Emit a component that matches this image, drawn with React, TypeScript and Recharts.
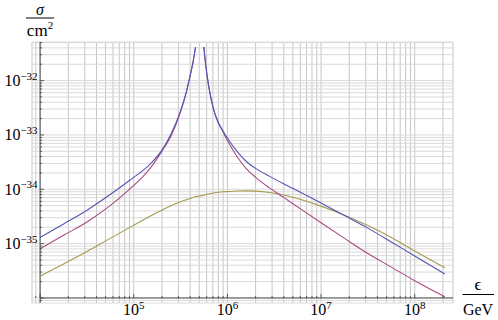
import React from 'react';
import { LineChart, Line, XAxis, YAxis, CartesianGrid, ReferenceLine } from 'recharts';

// energies in GeV
const energies = [
  1e4, 1.8e4, 3.2e4, 5.6e4, 1e5, 1.26e5, 1.58e5, 2e5, 2.5e5, 3.16e5, 3.63e5, 3.98e5, 4.27e5, 4.57e5,
  5.05e5,
  5.6e5, 5.89e5, 6.31e5, 7.08e5, 7.94e5, 8.91e5, 1e6, 1.26e6, 1.58e6, 2e6, 2.82e6, 3.98e6, 6.31e6,
  1e7, 1.78e7, 3.16e7, 5.62e7, 1e8, 2.1e8,
];

// cross sections in cm^2
const sigmaBlue = [
  1.3e-35, 2.32e-35, 4.17e-35, 8.0e-35, 1.66e-34, 2.23e-34, 3.21e-34, 5.25e-34, 1.04e-33, 2.78e-33, 5.99e-33, 1.19e-32, 2.07e-32, 4.15e-32,
  null,
  4.15e-32, 1.82e-32, 7.91e-33, 3.06e-33, 1.73e-33, 1.21e-33, 8.76e-34, 5.03e-34, 3.28e-34, 2.43e-34, 1.73e-34, 1.26e-34, 8.43e-35,
  5.57e-35, 3.28e-35, 1.93e-35, 1.075e-35, 5.92e-36, 2.77e-36,
];
const sigmaMagenta = [
  8.07e-36, 1.44e-35, 2.53e-35, 5.0e-35, 1.18e-34, 1.73e-34, 2.76e-34, 5.03e-34, 9.54e-34, 2.66e-33, 5.99e-33, 1.19e-32, 2.07e-32, 4.15e-32,
  null,
  4.15e-32, 1.82e-32, 7.91e-33, 3.06e-33, 1.73e-33, 1.16e-33, 7.87e-34, 4.06e-34, 2.43e-34, 1.66e-34, 1.06e-34, 7.11e-35, 4.13e-35,
  2.42e-35, 1.25e-35, 6.58e-36, 3.7e-36, 2.08e-36, 1.05e-36,
];
const sigmaYellow = [
  2.52e-36, 4.28e-36, 7.26e-36, 1.25e-35, 2.18e-35, 2.72e-35, 3.36e-35, 4.13e-35, 5.0e-35, 5.89e-35, 6.41e-35, 6.75e-35, 7.05e-35, 7.29e-35,
  7.51e-35,
  7.84e-35, 8.01e-35, 8.22e-35, 8.54e-35, 8.8e-35, 8.99e-35, 9.1e-35, 9.29e-35, 9.37e-35, 9.26e-35, 8.72e-35, 7.84e-35, 6.33e-35,
  4.9e-35, 3.34e-35, 2.15e-35, 1.3e-35, 7.32e-36, 3.59e-36,
];

const xRange = [1e4, 2.1e8];
const yRange = [1e-36, 4.15e-32];

const COLORS = { blue: '#5555b4', magenta: '#a84a82', yellow: '#a69a4e' };

const W = 498;
const H = 320;
const M = { top: 42, right: 45, bottom: 0, left: 0 };
const Y_AXIS_W = 32;
const X_AXIS_H = 17;
const PAD = 0.02;
const PLOT_W = W - M.left - M.right - Y_AXIS_W;
const PLOT_H = H - M.top - M.bottom - X_AXIS_H;
const X_PAD_PX = (PLOT_W * PAD) / (1 + 2 * PAD);
const Y_PAD_PX = (PLOT_H * PAD) / (1 + 2 * PAD);
const FONT = "'Liberation Serif', 'Times New Roman', Times, serif";

const data = energies.map((e, i) => ({
  e,
  blue: sigmaBlue[i],
  magenta: sigmaMagenta[i],
  yellow: sigmaYellow[i],
}));

function padLog([a, b]: number[]) {
  const la = Math.log10(a);
  const lb = Math.log10(b);
  const p = (lb - la) * PAD;
  return [Math.pow(10, la - p), Math.pow(10, lb + p)];
}
const xDomain = padLog(xRange);
const yDomain = padLog(yRange);

function logTicks([lo, hi]: number[]) {
  const out: number[] = [];
  for (let n = Math.floor(Math.log10(lo)); n <= Math.ceil(Math.log10(hi)); n++) {
    for (let k = 1; k <= 9; k++) {
      const v = k * Math.pow(10, n);
      if (v >= lo && v <= hi) out.push(v);
    }
  }
  return out;
}
const xTicks = logTicks(xDomain);
const yTicks = logTicks(yDomain);

function decade(v: number) {
  const l = Math.log10(v);
  const r = Math.round(l);
  return Math.abs(l - r) < 1e-6 ? r : null;
}
function same(a: number, b: number) {
  return Math.abs(Math.log10(a) - Math.log10(b)) < 1e-6;
}

const AXIS = '#3a3a3a';

const XTick = (props: any) => {
  const { x, y, payload } = props;
  const d = decade(payload.value);
  const ay = y - Y_PAD_PX;
  const atOrigin = same(payload.value, xRange[0]);
  return (
    <g>
      <line x1={x} x2={x} y1={ay} y2={ay - (d !== null ? 4 : 2)} stroke={AXIS} strokeWidth={0.8} />
      {d !== null && !atOrigin && (
        <text x={x} y={ay + 17.5} textAnchor="middle" fontFamily={FONT} fontSize={16} fill="#000">
          10<tspan dy={-6} fontSize={11}>{String(d)}</tspan>
        </text>
      )}
    </g>
  );
};

const YTick = (props: any) => {
  const { x, y, payload } = props;
  const d = decade(payload.value);
  const ax = x + X_PAD_PX;
  const atOrigin = same(payload.value, yRange[0]);
  return (
    <g>
      <line x1={ax} x2={ax + (d !== null ? 4 : 2)} y1={y} y2={y} stroke={AXIS} strokeWidth={0.8} />
      {d !== null && !atOrigin && (
        <text x={ax - 2.5} y={y + 5.5} textAnchor="end" fontFamily={FONT} fontSize={16} fill="#000">
          10<tspan dy={-6.5} fontSize={11}>{'\u2212' + String(-d)}</tspan>
        </text>
      )}
    </g>
  );
};

export default function App() {
  return (
    <div style={{ position: 'absolute', left: 0, top: 0, width: W, height: H, background: '#fff', fontFamily: FONT }}>
      <LineChart width={W} height={H} data={data} margin={M}>
        <CartesianGrid horizontal={false} vertical={true} stroke="#c6c6c6" strokeWidth={1} />
        <CartesianGrid horizontal={true} vertical={false} stroke="#dadada" strokeWidth={1} />
        <XAxis
          dataKey="e"
          type="number"
          scale="log"
          domain={xDomain}
          allowDataOverflow
          ticks={xTicks}
          interval={0}
          tickSize={0}
          tickMargin={0}
          axisLine={false}
          tickLine={false}
          height={X_AXIS_H}
          tick={<XTick />}
        />
        <YAxis
          type="number"
          scale="log"
          domain={yDomain}
          allowDataOverflow
          ticks={yTicks}
          interval={0}
          tickSize={0}
          tickMargin={0}
          axisLine={false}
          tickLine={false}
          width={Y_AXIS_W}
          tick={<YTick />}
        />
        <ReferenceLine x={xRange[0]} stroke={AXIS} strokeWidth={0.9} />
        <ReferenceLine
          segment={[{ x: xRange[0], y: yRange[0] }, { x: xDomain[1], y: yRange[0] }]}
          stroke={AXIS}
          strokeWidth={0.9}
        />
        <Line dataKey="yellow" stroke={COLORS.yellow} strokeWidth={1.1} dot={false} type="monotone" isAnimationActive={false} />
        <Line dataKey="magenta" stroke={COLORS.magenta} strokeWidth={1.1} dot={false} type="monotone" isAnimationActive={false} />
        <Line dataKey="blue" stroke={COLORS.blue} strokeWidth={1.1} dot={false} type="monotone" isAnimationActive={false} />
      </LineChart>
      <svg width={W} height={H} style={{ position: 'absolute', left: 0, top: 0, pointerEvents: 'none' }}>
        <g fontFamily={FONT} fill="#000">
          <text x={40} y={14.5} textAnchor="middle" fontSize={16} fontStyle="italic">σ</text>
          <line x1={26} x2={54} y1={18} y2={18} stroke="#000" strokeWidth={1} />
          <text x={40} y={36} textAnchor="middle" fontSize={17}>
            cm<tspan dy={-7} fontSize={11}>2</tspan>
          </text>
          <text x={478} y={290} textAnchor="middle" fontSize={17}>ϵ</text>
          <line x1={462.5} x2={494} y1={294.5} y2={294.5} stroke="#000" strokeWidth={1} />
          <text x={478} y={315} textAnchor="middle" fontSize={16}>GeV</text>
        </g>
      </svg>
    </div>
  );
}
